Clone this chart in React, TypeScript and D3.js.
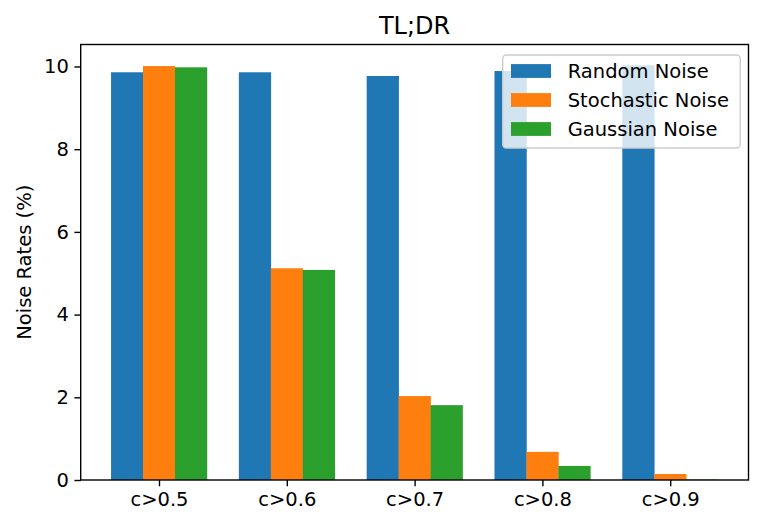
import { useEffect, useRef } from "react";
import * as d3 from "d3";

const categories = ["c>0.5", "c>0.6", "c>0.7", "c>0.8", "c>0.9"];
const randomNoise = [9.86, 9.86, 9.77, 9.89, 10.03];
const stochasticNoise = [10.01, 5.12, 2.03, 0.68, 0.145];
const gaussianNoise = [9.98, 5.08, 1.81, 0.34, 0.01];
const yTicks = [0, 2, 4, 6, 8, 10];

const series = [
  { name: "Random Noise", values: randomNoise, color: "#1f77b4" },
  { name: "Stochastic Noise", values: stochasticNoise, color: "#ff7f0e" },
  { name: "Gaussian Noise", values: gaussianNoise, color: "#2ca02c" },
];

export default function App() {
  const ref = useRef<SVGSVGElement>(null);

  useEffect(() => {
    if (!ref.current) return;
    const svg = d3.select(ref.current);
    svg.selectAll("*").remove();

    const width = 764;
    const height = 527;
    const margin = { top: 44.5, right: 15.5, bottom: 47, left: 80.7 };
    const font = "'DejaVu Sans', sans-serif";
    const fs = 19.5;
    const barW = 0.25;

    // matplotlib-like limits: 5% margins on x, 5% headroom on y
    const lo = -barW * 1.5;
    const hi = categories.length - 1 + barW * 1.5;
    const pad = (hi - lo) * 0.05;
    const x = d3.scaleLinear()
      .domain([lo - pad, hi + pad])
      .range([margin.left, width - margin.right]);

    const ymax = d3.max(series.flatMap(s => s.values)) as number;
    const y = d3.scaleLinear()
      .domain([0, ymax * 1.05])
      .range([height - margin.bottom, margin.top]);

    // bars
    series.forEach((s, k) => {
      svg.append("g")
        .selectAll("rect")
        .data(s.values)
        .join("rect")
        .attr("x", (d, i) => x(i + (k - 1) * barW - barW / 2))
        .attr("width", x(barW) - x(0) + 0.3)
        .attr("y", d => y(d))
        .attr("height", d => y(0) - y(d))
        .attr("fill", s.color);
    });

    // x axis
    const xAxis = svg.append("g")
      .attr("transform", `translate(0,${height - margin.bottom})`)
      .call(d3.axisBottom(x).tickValues(categories.map((c, i) => i))
        .tickFormat((d, i) => categories[i]).tickSize(6.3).tickPadding(5.5));
    xAxis.select(".domain").remove();

    // y axis
    const yAxis = svg.append("g")
      .attr("transform", `translate(${margin.left},0)`)
      .call(d3.axisLeft(y).tickValues(yTicks).tickSize(6.3).tickPadding(5.5));
    yAxis.select(".domain").remove();

    [xAxis, yAxis].forEach(g => {
      g.selectAll("line").attr("stroke", "#000").attr("stroke-width", 1.4);
      g.selectAll("text").attr("font-family", font).attr("font-size", fs).attr("fill", "#000");
    });

    // spines
    svg.append("rect")
      .attr("x", margin.left)
      .attr("y", margin.top)
      .attr("width", width - margin.left - margin.right)
      .attr("height", height - margin.top - margin.bottom)
      .attr("fill", "none")
      .attr("stroke", "#000")
      .attr("stroke-width", 1.4);

    // title
    svg.append("text")
      .attr("x", (margin.left + width - margin.right) / 2)
      .attr("y", 33.5)
      .attr("text-anchor", "middle")
      .attr("font-family", font)
      .attr("font-size", 24)
      .text("TL;DR");

    // y label
    svg.append("text")
      .attr("transform", `translate(30.5,${(margin.top + height - margin.bottom) / 2}) rotate(-90)`)
      .attr("text-anchor", "middle")
      .attr("font-family", font)
      .attr("font-size", fs)
      .text("Noise Rates (%)");

    // legend
    const lg = svg.append("g").attr("transform", "translate(502.7,55)");
    lg.append("rect")
      .attr("width", 237.5)
      .attr("height", 93)
      .attr("rx", 3.5)
      .attr("fill", "#fff")
      .attr("fill-opacity", 0.8)
      .attr("stroke", "#cccccc")
      .attr("stroke-width", 1.4);
    series.forEach((s, k) => {
      const row = lg.append("g").attr("transform", `translate(0,${16 + k * 29})`);
      row.append("rect")
        .attr("x", 8.3)
        .attr("y", -6.9)
        .attr("width", 40)
        .attr("height", 13.8)
        .attr("fill", s.color);
      row.append("text")
        .attr("x", 65)
        .attr("dy", "0.36em")
        .attr("font-family", font)
        .attr("font-size", fs)
        .text(s.name);
    });
  }, []);

  return (
    <div style={{ position: "absolute", left: 0, top: 0 }}>
      <svg ref={ref} width={764} height={527} style={{ display: "block", background: "#fff" }} />
    </div>
  );
}
